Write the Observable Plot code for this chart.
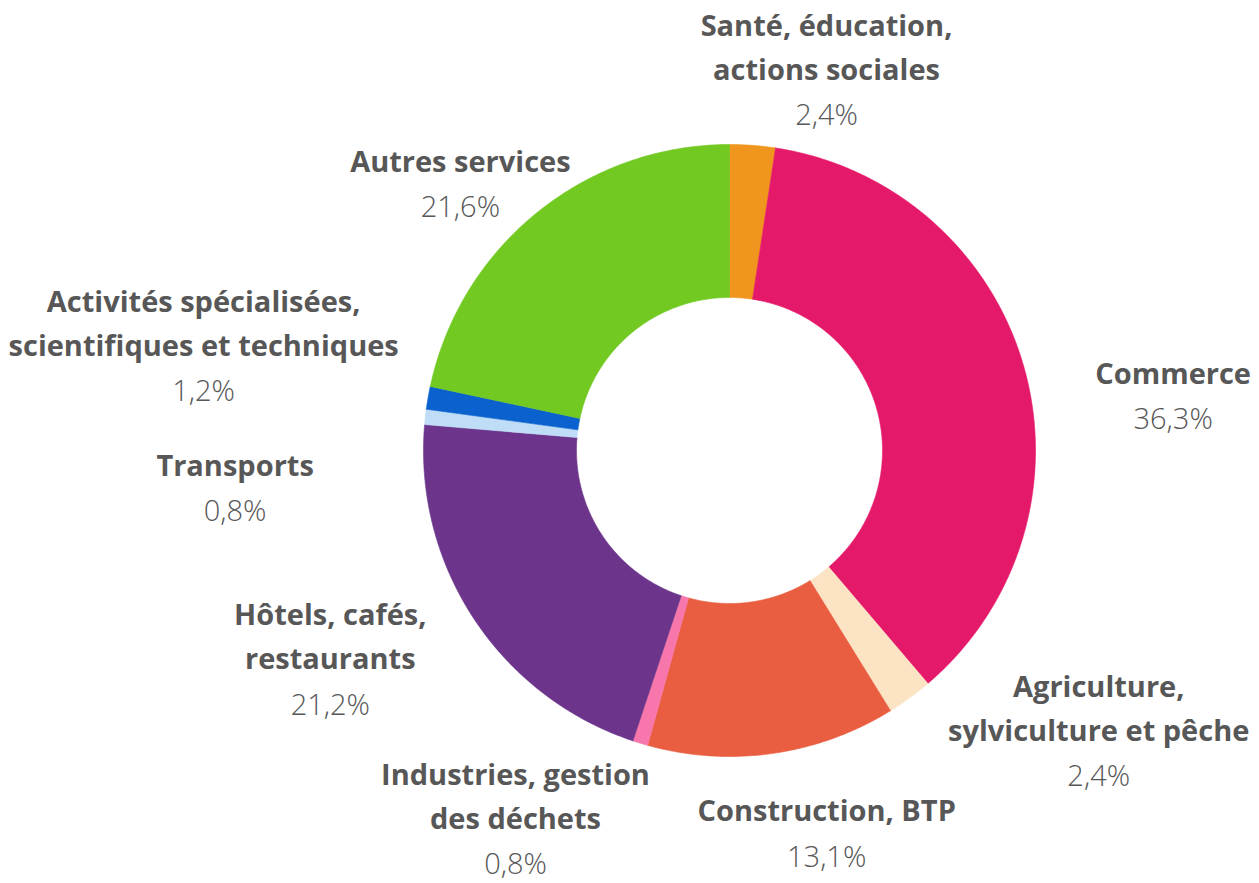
<!DOCTYPE html>
<html><head><meta charset="utf-8">
<script src="https://cdn.jsdelivr.net/npm/d3@7"></script>
<script src="https://cdn.jsdelivr.net/npm/@observablehq/plot@0.6"></script>
<style>body{margin:0;background:#fff}</style>
</head><body><div id="chart"></div>
<script>
// ---- data ----
const categories = [
  "Santé, éducation,\nactions sociales",
  "Commerce",
  "Agriculture,\nsylviculture et pêche",
  "Construction, BTP",
  "Industries, gestion\ndes déchets",
  "Hôtels, cafés,\nrestaurants",
  "Transports",
  "Activités spécialisées,\nscientifiques et techniques",
  "Autres services"
];
const shares = [2.4, 36.3, 2.4, 13.1, 0.8, 21.2, 0.8, 1.2, 21.6];
const valueLabels = ["2,4%", "36,3%", "2,4%", "13,1%", "0,8%", "21,2%", "0,8%", "1,2%", "21,6%"];
const colors = ["#F0961F", "#E5196A", "#FBE3C4", "#E95D40", "#F776AB", "#6C358B", "#BFDDF7", "#0B62CF", "#71C922"];

// ---- layout ----
const W = 1259, H = 883, CX = 729, CY = 450, R = 306, innerRatio = 0.5;
const labelRadius = 1.3;
const labelNudge = [[67,62],[61,78],[135,5],[41,13],[-98,34],[-67,36],[-99,105],[-134,10],[-19,67]];
const FONT = "'Open Sans', Roboto, sans-serif";
const TEXT = "#575757";

const total = d3.sum(shares);
let acc = 0;
const slices = categories.map((c, i) => {
  const a0 = acc / total * 2 * Math.PI; acc += shares[i];
  const a1 = acc / total * 2 * Math.PI;
  return {cat: c, value: valueLabels[i], a0, a1, mid: (a0 + a1) / 2, i};
});
const ring = [];
for (const s of slices) {
  const n = Math.max(2, Math.ceil((s.a1 - s.a0) / (Math.PI / 360)));
  const pts = [];
  for (let k = 0; k <= n; k++) { const a = s.a0 + (s.a1 - s.a0) * k / n; pts.push({cat: s.cat, x: Math.sin(a), y: Math.cos(a)}); }
  for (let k = n; k >= 0; k--) { const a = s.a0 + (s.a1 - s.a0) * k / n; pts.push({cat: s.cat, x: innerRatio * Math.sin(a), y: innerRatio * Math.cos(a)}); }
  pts.push({...pts[0]});
  ring.push(...pts);
}
const labels = slices.map(s => ({
  name: s.cat, value: s.value,
  x: labelRadius * Math.sin(s.mid) + labelNudge[s.i][0] / R,
  y: labelRadius * Math.cos(s.mid) - labelNudge[s.i][1] / R
}));

const chart = Plot.plot({
  width: W, height: H, margin: 0,
  style: {fontFamily: FONT, background: "#fff"},
  x: {domain: [-CX / R, (W - CX) / R], range: [0, W], axis: null},
  y: {domain: [-(H - CY) / R, CY / R], range: [H, 0], axis: null},
  color: {domain: categories, range: colors},
  marks: [
    Plot.line(ring, {x: "x", y: "y", z: "cat", fill: "cat", stroke: "cat", strokeWidth: 0.6, curve: "linear"}),
    Plot.text(labels, {x: "x", y: "y", text: "value", fontSize: 29, fontWeight: 300, fill: TEXT, fontFamily: FONT}),
    Plot.text(labels, {x: "x", y: "y", text: "name", lineAnchor: "bottom", dy: -36, lineHeight: 1.52, fontSize: 29, fontWeight: 700, fill: TEXT, fontFamily: FONT})
  ]
});
document.getElementById("chart").append(chart);
</script>
</body></html>
